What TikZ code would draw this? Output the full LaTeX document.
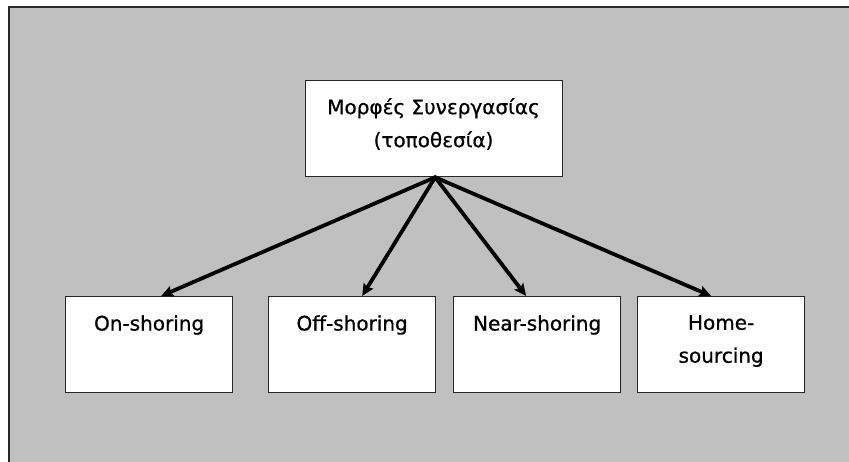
\documentclass[tikz,border=0pt]{standalone}
\usepackage{fontspec}
\setmainfont{DejaVu Sans}[FakeBold=0.5]
\newfontfamily\heavyfont{DejaVu Sans}[FakeBold=0.8]
\usetikzlibrary{arrows.meta,calc}
\definecolor{bggray}{RGB}{192,192,192}
\definecolor{edge}{RGB}{40,40,40}
\tikzset{
  box/.style={draw=edge, line width=1.3pt, fill=white, minimum width=167pt, minimum height=96pt, anchor=north west, inner sep=0pt},
  lbl/.style={font=\heavyfont\fontsize{20}{33}\selectfont, align=center, anchor=center},
  conn/.style={line width=3.8pt, black, -{Stealth[length=12pt,width=11pt,inset=2pt]}, shorten <=-1pt}
}
\begin{document}
\begin{tikzpicture}[x=1pt,y=-1pt]
\useasboundingbox (0,0) rectangle (849,462);
\fill[white] (0,0) rectangle (849,462);
\filldraw[fill=bggray, draw=edge, line width=1.5pt] (9,7) -- (855,7) -- (855,470) -- (9,470) -- cycle;
% top box
\node[box, minimum width=257pt, minimum height=96pt] (top) at (305,80) {};
\node[lbl] (toptext) at (433.5,124) {Μορφές Συνεργασίας\\(τοποθεσία)};
% bottom boxes
\node[box] (on) at (65,296) {};
\node[box] (off) at (268,296) {};
\node[box] (near) at (453,296) {};
\node[box] (home) at (637,296) {};
\node[lbl] (ontext) at ($(on.north)+(0,29)$) {On-shoring};
\node[lbl] (offtext) at ($(off.north)+(0,29)$) {Off-shoring};
\node[lbl] (neartext) at ($(near.north)+(0,29)$) {Near-shoring};
\node[lbl] (hometext) at ($(home.north)+(0,45)$) {Home-\\sourcing};
% connectors
\coordinate (hub) at ($(top.south)+(1,0)$);
\draw[conn] (hub) -- ($(on.north)+(12,0)$);
\draw[conn] (hub) -- ($(off.north)+(10,0)$);
\draw[conn] (hub) -- ($(near.north)+(-11,0)$);
\draw[conn] (hub) -- ($(home.north)+(-10,0)$);
\end{tikzpicture}
\end{document}
